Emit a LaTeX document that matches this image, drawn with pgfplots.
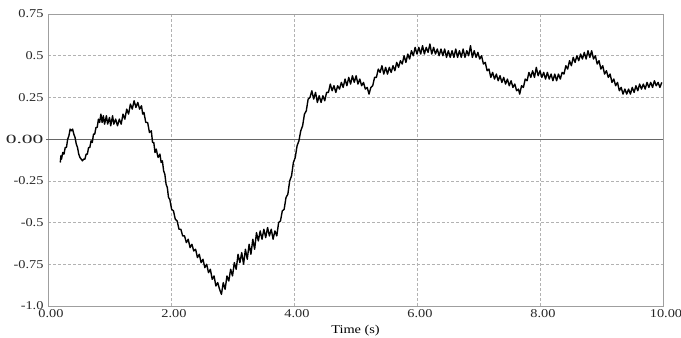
\documentclass[border=0pt]{standalone}
\usepackage{pgfplots}
\pgfplotsset{compat=1.18}
\usepackage{pgfplotstable}
\usepackage{graphicx}
\usepackage{fontspec}
\setmainfont{Liberation Serif}[FakeStretch=1.2]
\pgfplotstableread{
x y
0.20 -0.14
0.21 -0.10
0.22 -0.12
0.24 -0.08
0.26 -0.09
0.28 -0.05
0.30 -0.05
0.32 0.00
0.34 0.02
0.36 0.06
0.38 0.05
0.40 0.06
0.42 0.03
0.44 0.01
0.46 -0.03
0.48 -0.05
0.50 -0.09
0.52 -0.11
0.54 -0.12
0.56 -0.13
0.58 -0.12
0.60 -0.12
0.62 -0.09
0.64 -0.09
0.66 -0.05
0.68 -0.05
0.70 -0.01
0.72 -0.02
0.74 0.03
0.76 0.03
0.78 0.07
0.80 0.07
0.82 0.12
0.84 0.10
0.86 0.15
0.88 0.10
0.90 0.14
0.92 0.09
0.95 0.14
0.97 0.09
1.00 0.13
1.02 0.08
1.05 0.14
1.07 0.09
1.10 0.12
1.13 0.08
1.16 0.12
1.19 0.09
1.22 0.15
1.25 0.12
1.28 0.18
1.31 0.15
1.34 0.21
1.37 0.18
1.40 0.23
1.43 0.19
1.46 0.22
1.49 0.18
1.52 0.20
1.54 0.15
1.56 0.16
1.59 0.10
1.62 0.10
1.65 0.04
1.68 0.05
1.70 -0.02
1.72 -0.02
1.74 -0.08
1.76 -0.06
1.79 -0.11
1.82 -0.09
1.84 -0.14
1.86 -0.13
1.88 -0.19
1.90 -0.21
1.92 -0.27
1.94 -0.29
1.96 -0.35
1.98 -0.36
2.01 -0.42
2.04 -0.43
2.07 -0.48
2.10 -0.49
2.13 -0.54
2.16 -0.54
2.19 -0.58
2.22 -0.58
2.25 -0.62
2.28 -0.60
2.31 -0.65
2.34 -0.63
2.37 -0.67
2.40 -0.66
2.43 -0.71
2.46 -0.69
2.49 -0.74
2.52 -0.72
2.55 -0.77
2.58 -0.75
2.61 -0.80
2.64 -0.78
2.67 -0.84
2.70 -0.82
2.73 -0.88
2.76 -0.86
2.79 -0.90
2.82 -0.93
2.85 -0.86
2.88 -0.90
2.91 -0.82
2.94 -0.85
2.97 -0.78
3.00 -0.82
3.03 -0.74
3.06 -0.78
3.09 -0.69
3.12 -0.74
3.15 -0.68
3.18 -0.75
3.21 -0.66
3.24 -0.72
3.27 -0.63
3.30 -0.69
3.33 -0.60
3.36 -0.66
3.39 -0.56
3.42 -0.61
3.45 -0.55
3.48 -0.60
3.51 -0.54
3.54 -0.59
3.57 -0.53
3.60 -0.58
3.63 -0.54
3.66 -0.60
3.69 -0.55
3.72 -0.58
3.75 -0.50
3.78 -0.49
3.81 -0.43
3.84 -0.42
3.87 -0.35
3.90 -0.33
3.93 -0.25
3.96 -0.22
3.99 -0.14
4.02 -0.11
4.05 -0.04
4.08 -0.01
4.11 0.05
4.14 0.08
4.17 0.15
4.20 0.17
4.23 0.24
4.26 0.25
4.29 0.29
4.32 0.24
4.35 0.28
4.38 0.22
4.41 0.26
4.44 0.22
4.47 0.26
4.50 0.23
4.53 0.28
4.56 0.28
4.59 0.33
4.62 0.29
4.65 0.32
4.68 0.28
4.71 0.32
4.74 0.30
4.77 0.34
4.80 0.31
4.83 0.36
4.86 0.32
4.89 0.37
4.92 0.33
4.95 0.38
4.98 0.34
5.01 0.38
5.04 0.33
5.07 0.36
5.10 0.32
5.13 0.34
5.16 0.30
5.19 0.31
5.22 0.27
5.25 0.31
5.28 0.32
5.31 0.37
5.34 0.37
5.37 0.42
5.40 0.40
5.43 0.44
5.46 0.39
5.49 0.43
5.52 0.39
5.55 0.43
5.58 0.40
5.61 0.44
5.64 0.41
5.67 0.46
5.70 0.43
5.73 0.47
5.76 0.45
5.79 0.50
5.82 0.46
5.85 0.51
5.88 0.48
5.91 0.53
5.94 0.50
5.97 0.55
6.00 0.51
6.03 0.55
6.06 0.51
6.09 0.56
6.12 0.51
6.15 0.55
6.18 0.52
6.21 0.57
6.24 0.51
6.27 0.55
6.30 0.51
6.33 0.54
6.36 0.50
6.39 0.54
6.42 0.50
6.45 0.54
6.48 0.49
6.51 0.53
6.54 0.49
6.57 0.53
6.60 0.49
6.63 0.54
6.66 0.49
6.69 0.53
6.72 0.49
6.75 0.54
6.78 0.49
6.81 0.53
6.84 0.50
6.87 0.56
6.90 0.49
6.93 0.53
6.96 0.49
6.99 0.52
7.02 0.48
7.05 0.50
7.08 0.45
7.11 0.46
7.14 0.41
7.17 0.42
7.20 0.37
7.23 0.40
7.26 0.36
7.29 0.39
7.32 0.35
7.35 0.38
7.38 0.34
7.41 0.37
7.44 0.33
7.47 0.36
7.50 0.32
7.53 0.35
7.56 0.31
7.59 0.33
7.62 0.29
7.65 0.30
7.67 0.27
7.70 0.32
7.73 0.31
7.76 0.36
7.79 0.35
7.82 0.40
7.85 0.37
7.88 0.41
7.91 0.37
7.94 0.43
7.97 0.38
8.00 0.41
8.03 0.37
8.06 0.40
8.09 0.36
8.12 0.40
8.15 0.36
8.18 0.39
8.21 0.35
8.24 0.39
8.27 0.35
8.30 0.39
8.33 0.36
8.36 0.40
8.39 0.39
8.42 0.44
8.45 0.42
8.48 0.47
8.51 0.44
8.54 0.49
8.57 0.46
8.60 0.50
8.63 0.47
8.66 0.51
8.69 0.48
8.72 0.52
8.75 0.48
8.78 0.53
8.81 0.49
8.84 0.53
8.87 0.48
8.90 0.50
8.93 0.45
8.96 0.47
8.99 0.42
9.02 0.44
9.05 0.39
9.08 0.41
9.11 0.37
9.14 0.39
9.17 0.34
9.20 0.36
9.23 0.32
9.26 0.34
9.29 0.29
9.32 0.31
9.35 0.27
9.38 0.30
9.41 0.27
9.44 0.30
9.47 0.27
9.50 0.31
9.53 0.28
9.56 0.32
9.59 0.29
9.62 0.33
9.65 0.30
9.68 0.33
9.71 0.30
9.74 0.34
9.77 0.31
9.80 0.34
9.83 0.31
9.86 0.35
9.89 0.32
9.92 0.34
9.95 0.31
9.98 0.34
}\signal
\begin{document}
\begin{tikzpicture}
\begin{axis}[
  scale only axis,
  width=615bp, height=292bp,
  xmin=0, xmax=10, ymin=-1, ymax=0.75,
  xtick={0,2,4,6,8,10},
  xticklabels={\raisebox{-6bp}{0.00},2.00,4.00,6.00,8.00,10.00},
  ytick={-1,-0.75,-0.5,-0.25,0,0.25,0.5,0.75},
  yticklabels={-1.0,-0.75,-0.5,-0.25,{\scalebox{1.5}[1.05]{0.00}},0.25,0.5,0.75},
  ticklabel style={font=\fontsize{12}{13}\selectfont, text=black!85},
  xticklabel style={xshift=3bp, yshift=0bp},
  yticklabel style={xshift=-1bp},
  tick style={draw=none},
  axis line style={draw=gray!75, line width=0.9pt},
  grid=major,
  grid style={densely dashed, gray!60, line width=0.5pt},
  xlabel={Time (s)},
  xlabel style={at={(axis description cs:0.5,0)}, anchor=north, inner sep=0pt, yshift=-19bp, font=\fontsize{12}{13}\selectfont},
  clip=false,
]
\addplot[black!60, line width=1.1pt, forget plot] coordinates {(-0.03,0) (10,0)};
\addplot[black, line width=1.4pt, line join=round] table[x=x, y=y] {\signal};
\end{axis}
\pgfresetboundingbox
\path[use as bounding box] (-48bp,-32bp) rectangle (633bp,306bp);
\end{tikzpicture}
\end{document}
